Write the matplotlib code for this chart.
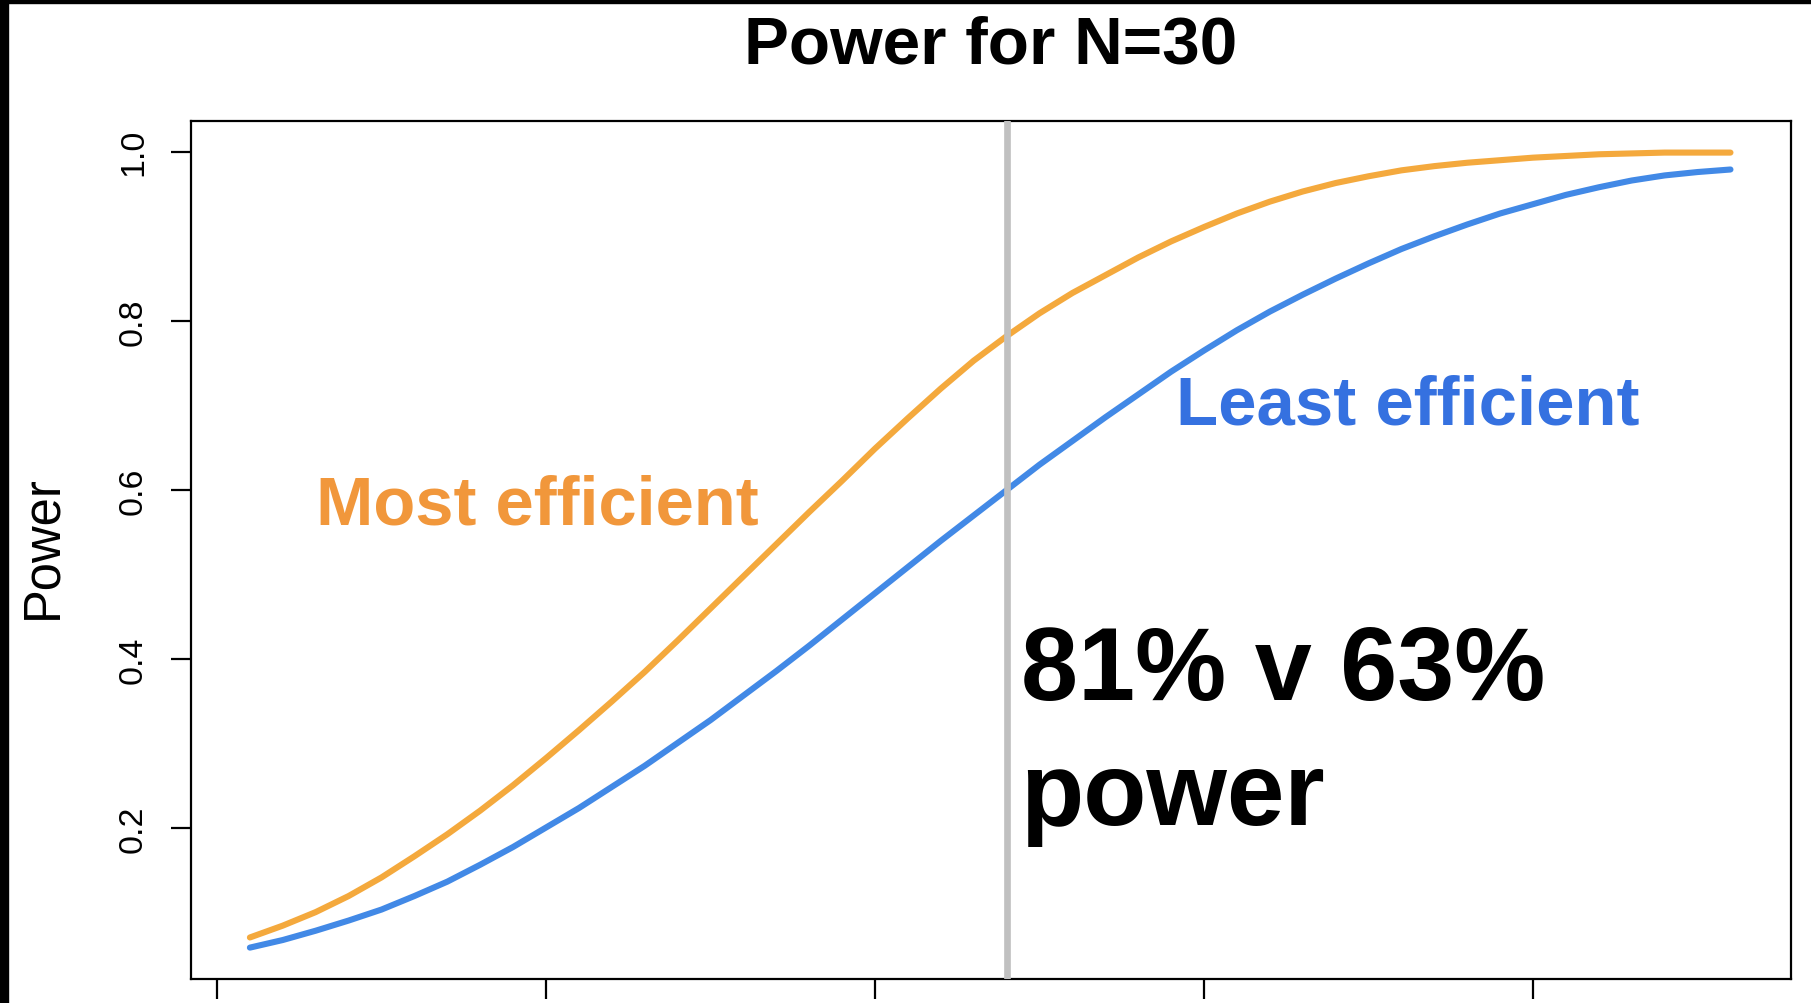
import matplotlib
matplotlib.use("Agg")
import matplotlib.pyplot as plt
from matplotlib.patches import Rectangle

plt.rcParams['font.family'] = ['Liberation Sans', 'DejaVu Sans']

# Effect size grid and power for the two designs
effect = [0.02, 0.04, 0.06, 0.08, 0.10, 0.12, 0.14, 0.16, 0.18, 0.20, 0.22, 0.24,
          0.26, 0.28, 0.30, 0.32, 0.34, 0.36, 0.38, 0.40, 0.42, 0.44, 0.46, 0.48,
          0.50, 0.52, 0.54, 0.56, 0.58, 0.60, 0.62, 0.64, 0.66, 0.68, 0.70, 0.72,
          0.74, 0.76, 0.78, 0.80, 0.82, 0.84, 0.86, 0.88, 0.90, 0.92]
power_most = [0.071, 0.085, 0.101, 0.120, 0.142, 0.167, 0.193, 0.221, 0.251, 0.283,
              0.316, 0.350, 0.385, 0.422, 0.460, 0.498, 0.536, 0.574, 0.611, 0.649,
              0.685, 0.720, 0.753, 0.782, 0.809, 0.833, 0.854, 0.875, 0.894, 0.911,
              0.927, 0.941, 0.953, 0.963, 0.971, 0.978, 0.983, 0.987, 0.990, 0.993,
              0.995, 0.997, 0.998, 0.999, 0.999, 0.999]
power_least = [0.059, 0.068, 0.079, 0.091, 0.104, 0.120, 0.137, 0.157, 0.178, 0.201,
               0.224, 0.249, 0.274, 0.301, 0.328, 0.357, 0.386, 0.416, 0.447, 0.478,
               0.509, 0.540, 0.570, 0.600, 0.630, 0.658, 0.686, 0.713, 0.740, 0.765,
               0.789, 0.811, 0.831, 0.850, 0.868, 0.885, 0.900, 0.914, 0.927, 0.938,
               0.949, 0.958, 0.966, 0.972, 0.976, 0.979]
x_marker = 0.48
y_ticks = [0.2, 0.4, 0.6, 0.8, 1.0]
x_ticks = [0.0, 0.2, 0.4, 0.6, 0.8]

ORANGE = '#F4A93D'
ORANGE_TXT = '#F1973B'
BLUE = '#4289E6'
BLUE_TXT = '#3571E0'

W, H = 1811, 1004
fig = plt.figure(figsize=(W / 100, H / 100), dpi=100)
ax = fig.add_axes([190.6 / W, 1 - 980 / H, (1791 - 190.6) / W, (980 - 121.7) / H])

ax.plot(effect, power_most, color=ORANGE, lw=4.4, solid_capstyle='round',
        solid_joinstyle='round', zorder=2)
ax.plot(effect, power_least, color=BLUE, lw=4.4, solid_capstyle='round',
        solid_joinstyle='round', zorder=2)
ax.axvline(x_marker, color='#C0C0C0', lw=4.8, zorder=3)

ax.set_xlim(-0.01605, 0.9568)
ax.set_ylim(0.0219, 1.0367)
ax.set_xticks(x_ticks)
ax.set_yticks(y_ticks)
ax.set_yticklabels([f"{v:.1f}" for v in y_ticks], fontsize=24.5)
plt.setp(ax.get_yticklabels(), rotation=90, va='center', ha='right')
ax.tick_params(axis='both', direction='out', length=14.4, width=1.6, color='black')
ax.tick_params(axis='y', pad=15.5)
ax.tick_params(axis='x', labelbottom=False)
for sp in ax.spines.values():
    sp.set_linewidth(1.6)
    sp.set_color('black')

# labels and annotations
fig.text(43 / W, 1 - 547 / H, 'Power', rotation=90, ha='center', va='center',
         fontsize=36.5)
ax.text(0.5, 1.0678, 'Power for N=30', transform=ax.transAxes, ha='center',
        va='baseline', fontsize=48.6, fontweight='bold')
ax.text(0.0602, 0.560, 'Most efficient', color=ORANGE_TXT, fontsize=49.5,
        fontweight='bold', ha='left', va='baseline')
ax.text(0.583, 0.679, 'Least efficient', color=BLUE_TXT, fontsize=49.6,
        fontweight='bold', ha='left', va='baseline')
ax.text(0.4885, 0.3525, '81% v 63%', color='black', fontsize=73.8,
        fontweight='bold', ha='left', va='baseline')
ax.text(0.4885, 0.205, 'power', color='black', fontsize=74.5,
        fontweight='bold', ha='left', va='baseline')

# black strips along the left and top edges
fig.add_artist(Rectangle((0, 0), 8.3 / W, 1, transform=fig.transFigure,
                         color='black', zorder=10))
fig.add_artist(Rectangle((0, 1 - 4 / H), 1, 4 / H, transform=fig.transFigure,
                         color='black', zorder=10))

fig.savefig('out.png', dpi=100)
